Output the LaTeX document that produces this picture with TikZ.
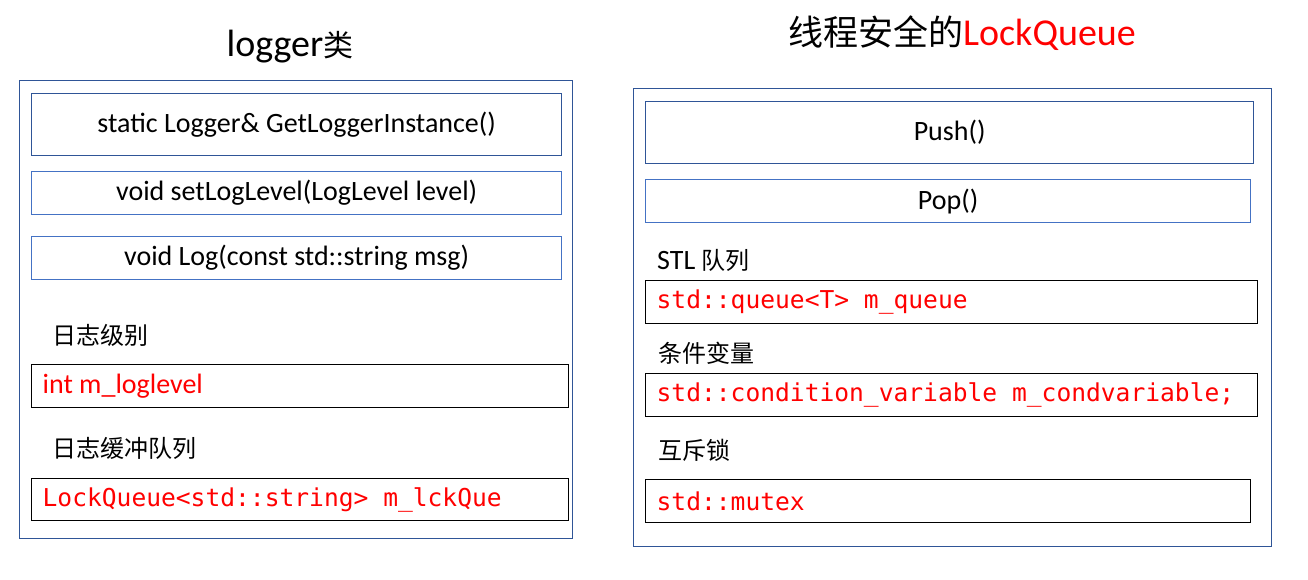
\documentclass[tikz,border=0pt]{standalone}
\usepackage{fontspec}
\setmainfont{Carlito}
\newfontfamily\cjk{Noto Sans CJK SC}
\newfontfamily\monofont{DejaVu Sans Mono}
\newcommand{\monospaces}{\spaceskip 0.602em\relax\xspaceskip 0.602em\relax}
\definecolor{outerblue}{HTML}{2F5597}
\definecolor{boxblue}{HTML}{4472C4}

\begin{document}
\begin{tikzpicture}[x=1pt, y=-1pt,
    outerbox/.style={draw=outerblue, line width=1.2pt, anchor=north west, inner sep=0pt},
    fnbox/.style={draw=boxblue, line width=1.3pt, anchor=north west, inner sep=0pt, font=\fontsize{28}{31}\selectfont},
    membox/.style={draw=black, line width=1.3pt, anchor=north west, inner xsep=11pt, inner ysep=0pt, align=left, text=red, font=\monofont\fontsize{24.6}{28}\selectfont, execute at begin node=\monospaces},
    title/.style={font=\fontsize{38}{43}\selectfont},
    tag/.style={anchor=west, inner sep=0pt, font=\cjk\fontsize{24}{27}\selectfont}]
        \useasboundingbox (0,0) rectangle (1308,579);

        % Classe logger
        \node[title] (tlogger) at (290,47) {logger{\cjk\fontsize{30}{34}\selectfont 类}};
        \node[outerbox, minimum width=553, minimum height=458] (logger) at (19,80) {};
        \node[fnbox, draw=outerblue, minimum width=530, minimum height=62] (getinst) at (31,93) {static Logger\& GetLoggerInstance()};
        \node[fnbox, minimum width=530, minimum height=43] (setlvl) at (31,171) {void setLogLevel(LogLevel level)};
        \node[fnbox, minimum width=530, minimum height=43] (logfn) at (31,236) {void Log(const std::string msg)};
        \node[tag] (tlvl) at (52,335) {日志级别};
        \node[membox, minimum width=537, minimum height=43, text width=515, font=\normalfont\fontsize{28}{31}\selectfont, execute at begin node={\spaceskip 0.226em\relax}] (lvl) at (31,364) {int m\_loglevel};
        \node[tag] (tque) at (52,448) {日志缓冲队列};
        \node[membox, minimum width=537, minimum height=42, text width=515] (lckque) at (31,478) {LockQueue<std::string> m\_lckQue};

        % Classe LockQueue
        \node[title] (tlock) at (962,33) {{\cjk\fontsize{35}{39}\selectfont 线程安全的}\textcolor{red}{LockQueue}};
        \node[outerbox, minimum width=638, minimum height=458] (lockq) at (633,88) {};
        \node[fnbox, draw=outerblue, minimum width=608, minimum height=62] (push) at (645,101) {Push()};
        \node[fnbox, minimum width=605, minimum height=43] (pop) at (645,179) {Pop()};
        \node[anchor=west, inner sep=0pt, font=\fontsize{28}{31}\selectfont] (tstl) at (657,260) {STL {\cjk\fontsize{24}{27}\selectfont 队列}};
        \node[membox, minimum width=612, minimum height=43, text width=590] (queue) at (645,280) {std::queue<T> m\_queue};
        \node[tag] (tcond) at (658,353) {条件变量};
        \node[membox, minimum width=612, minimum height=43, text width=590] (cond) at (645,373) {std::condition\_variable m\_condvariable;};
        \node[tag] (tmtx) at (658,450) {互斥锁};
        \node[membox, minimum width=605, minimum height=43, text width=583] (mtx) at (645,479) {std::mutex};

    \end{tikzpicture}
\end{document}
